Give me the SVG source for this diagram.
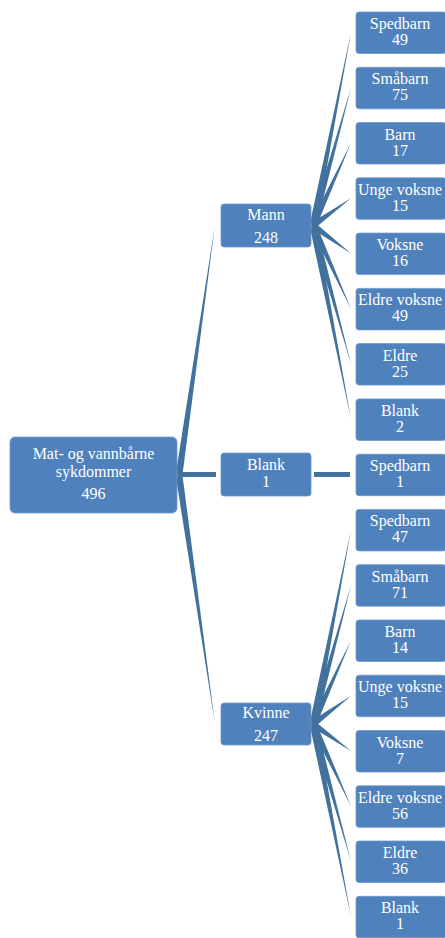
<svg xmlns="http://www.w3.org/2000/svg" width="445" height="938" viewBox="0 0 445 938">
<style>
.box{fill:#4F81BD;stroke:#6E98CB;stroke-width:0.8}
.c{fill:#41719C}
text{font-family:"Liberation Serif","DejaVu Serif",serif;font-size:16px;fill:#FFFFFF;text-anchor:middle}
</style>
<defs>
<polygon id="w" points="0,-3.4 1,0 0,3.4"/>
</defs>
<rect width="445" height="938" fill="#FFFFFF"/>
<g id="connectors" class="c">
<use href="#w" transform="translate(179,475) rotate(-81.81) scale(252.6,1)"/>
<use href="#w" transform="translate(179,475) rotate(81.77) scale(251.6,1)"/>
<rect x="178" y="472" width="38" height="5"/>
<rect x="314" y="472" width="36" height="5"/>
<use href="#w" transform="translate(313,225.5) rotate(-78.86) scale(196.7,1)"/>
<use href="#w" transform="translate(313,225.5) rotate(-74.57) scale(142.8,1)"/>
<use href="#w" transform="translate(313,225.5) rotate(-65.27) scale(90.8,1)"/>
<use href="#w" transform="translate(313,225.5) rotate(-35.6) scale(46.7,1)"/>
<use href="#w" transform="translate(313,225.5) rotate(36.48) scale(47.3,1)"/>
<use href="#w" transform="translate(313,225.5) rotate(65.5) scale(91.7,1)"/>
<use href="#w" transform="translate(313,225.5) rotate(74.67) scale(143.7,1)"/>
<use href="#w" transform="translate(313,225.5) rotate(78.91) scale(197.6,1)"/>
<use href="#w" transform="translate(313,724) rotate(-78.92) scale(197.8,1)"/>
<use href="#w" transform="translate(313,724) rotate(-74.69) scale(143.9,1)"/>
<use href="#w" transform="translate(313,724) rotate(-65.53) scale(91.7,1)"/>
<use href="#w" transform="translate(313,724) rotate(-36.67) scale(47.4,1)"/>
<use href="#w" transform="translate(313,724) rotate(35.39) scale(46.6,1)"/>
<use href="#w" transform="translate(313,724) rotate(65.22) scale(90.6,1)"/>
<use href="#w" transform="translate(313,724) rotate(74.55) scale(142.7,1)"/>
<use href="#w" transform="translate(313,724) rotate(78.85) scale(196.5,1)"/>
</g>
<g id="root"><rect class="box" x="10" y="437" width="167" height="76" rx="5"/><text x="93.5" y="459">Mat- og vannbårne</text><text x="93.5" y="477">sykdommer</text><text x="93.5" y="499">496</text></g>
<g id="mann"><rect class="box" x="221" y="204" width="90" height="43" rx="3"/><text x="266" y="220">Mann</text><text x="266" y="243">248</text></g>
<g id="blank"><rect class="box" x="221" y="453" width="90" height="43" rx="3"/><text x="266" y="470">Blank</text><text x="266" y="487">1</text></g>
<g id="kvinne"><rect class="box" x="221" y="703" width="90" height="42" rx="3"/><text x="266" y="718">Kvinne</text><text x="266" y="741">247</text></g>
<g id="m1"><rect class="box" x="356" y="12" width="90" height="41.5" rx="3"/><text x="400" y="29">Spedbarn</text><text x="400" y="45">49</text></g>
<g id="m2"><rect class="box" x="356" y="67.3" width="90" height="41.5" rx="3"/><text x="400" y="84.3">Småbarn</text><text x="400" y="100.3">75</text></g>
<g id="m3"><rect class="box" x="356" y="122.5" width="90" height="41.5" rx="3"/><text x="400" y="139.5">Barn</text><text x="400" y="155.5">17</text></g>
<g id="m4"><rect class="box" x="356" y="177.8" width="90" height="41.5" rx="3"/><text x="400" y="194.8">Unge voksne</text><text x="400" y="210.8">15</text></g>
<g id="m5"><rect class="box" x="356" y="233.1" width="90" height="41.5" rx="3"/><text x="400" y="250.1">Voksne</text><text x="400" y="266.1">16</text></g>
<g id="m6"><rect class="box" x="356" y="288.4" width="90" height="41.5" rx="3"/><text x="400" y="305.4">Eldre voksne</text><text x="400" y="321.4">49</text></g>
<g id="m7"><rect class="box" x="356" y="343.6" width="90" height="41.5" rx="3"/><text x="400" y="360.6">Eldre</text><text x="400" y="376.6">25</text></g>
<g id="m8"><rect class="box" x="356" y="398.9" width="90" height="41.5" rx="3"/><text x="400" y="415.9">Blank</text><text x="400" y="431.9">2</text></g>
<g id="b1"><rect class="box" x="356" y="454.2" width="90" height="41.5" rx="3"/><text x="400" y="471.2">Spedbarn</text><text x="400" y="487.2">1</text></g>
<g id="k1"><rect class="box" x="356" y="509.4" width="90" height="41.5" rx="3"/><text x="400" y="526.4">Spedbarn</text><text x="400" y="542.4">47</text></g>
<g id="k2"><rect class="box" x="356" y="564.7" width="90" height="41.5" rx="3"/><text x="400" y="581.7">Småbarn</text><text x="400" y="597.7">71</text></g>
<g id="k3"><rect class="box" x="356" y="620" width="90" height="41.5" rx="3"/><text x="400" y="637">Barn</text><text x="400" y="653">14</text></g>
<g id="k4"><rect class="box" x="356" y="675.2" width="90" height="41.5" rx="3"/><text x="400" y="692.2">Unge voksne</text><text x="400" y="708.2">15</text></g>
<g id="k5"><rect class="box" x="356" y="730.5" width="90" height="41.5" rx="3"/><text x="400" y="747.5">Voksne</text><text x="400" y="763.5">7</text></g>
<g id="k6"><rect class="box" x="356" y="785.8" width="90" height="41.5" rx="3"/><text x="400" y="802.8">Eldre voksne</text><text x="400" y="818.8">56</text></g>
<g id="k7"><rect class="box" x="356" y="841" width="90" height="41.5" rx="3"/><text x="400" y="858">Eldre</text><text x="400" y="874">36</text></g>
<g id="k8"><rect class="box" x="356" y="896.3" width="90" height="41.5" rx="3"/><text x="400" y="913.3">Blank</text><text x="400" y="929.3">1</text></g>
</svg>
